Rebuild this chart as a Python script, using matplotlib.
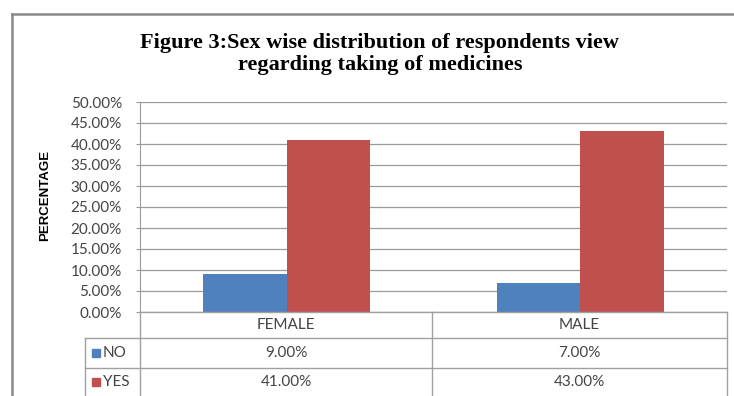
import matplotlib
matplotlib.use("Agg")
import matplotlib.pyplot as plt
from matplotlib.lines import Line2D
from matplotlib.patches import Rectangle

# ── data ─────────────────────────────────────────────────────────────────────
categories = ["FEMALE", "MALE"]
series_names = ["NO", "YES"]
no_values = [9.0, 7.0]
yes_values = [41.0, 43.0]
y_ticks = [0, 5, 10, 15, 20, 25, 30, 35, 40, 45, 50]

colors = {"NO": "#4F81BD", "YES": "#C0504D"}
W, H = 734, 396

fig = plt.figure(figsize=(W / 100, H / 100), dpi=100)
fig.patch.set_facecolor("white")

# plot area in pixels: left, top, right, bottom
L, T, R, B = 140, 102, 727, 312
ax = fig.add_axes([L / W, 1 - B / H, (R - L) / W, (B - T) / H])

x = range(len(categories))
bw = 0.285
ax.bar([i - bw / 2 for i in x], no_values, width=bw, color=colors["NO"], zorder=3)
ax.bar([i + bw / 2 for i in x], yes_values, width=bw, color=colors["YES"], zorder=3)

ax.set_xlim(-0.5, len(categories) - 0.5)
ax.set_ylim(0, 50)
ax.set_yticks(y_ticks)
ax.set_yticklabels([f"{v:.2f}%" for v in y_ticks], fontsize=11, color="#444444",
                   family="Lato")
ax.set_xticks([])
ax.grid(axis="y", color="#9a9a9a", linewidth=0.9, zorder=0)
ax.tick_params(axis="y", length=3, color="#9a9a9a", pad=10)
for s in ["top", "right", "bottom"]:
    ax.spines[s].set_visible(False)
ax.spines["left"].set_color("#9a9a9a")

def fx(px):
    return px / W

def fy(py):
    return 1 - py / H

fig.text(fx(45), fy(195), "PERCENTAGE", rotation=90, ha="center", va="center",
         fontsize=9.5, fontweight="bold", family="Liberation Sans")

fig.text(fx(380), fy(54),
         "Figure 3:Sex wise distribution of respondents view\nregarding taking of medicines",
         ha="center", va="center", fontsize=16, fontweight="bold",
         family="Liberation Serif", linespacing=1.1)

# ── data table under the axis ───────────────────────────────────────────────
lc = "#a0a0a0"
rows_y = [312, 338, 368, 396]
col_x = [L, 432, R]
tkw = dict(transform=fig.transFigure, color=lc, linewidth=1.0)
# horizontal lines
fig.add_artist(Line2D([fx(L), fx(R)], [fy(rows_y[0])] * 2, **tkw))
for yy in rows_y[1:3]:
    fig.add_artist(Line2D([fx(85), fx(R)], [fy(yy)] * 2, **tkw))
# vertical lines
for xx in col_x:
    fig.add_artist(Line2D([fx(xx)] * 2, [fy(rows_y[0]), fy(H)], **tkw))
fig.add_artist(Line2D([fx(85)] * 2, [fy(rows_y[1]), fy(H)], **tkw))

txt = dict(ha="center", va="center", fontsize=11, color="#444444", family="Lato")
for j, cat in enumerate(categories):
    cx = (col_x[j] + col_x[j + 1]) / 2
    fig.text(fx(cx), fy((rows_y[0] + rows_y[1]) / 2), cat, **txt)
    fig.text(fx(cx), fy((rows_y[1] + rows_y[2]) / 2), f"{no_values[j]:.2f}%", **txt)
    fig.text(fx(cx), fy((rows_y[2] + rows_y[3]) / 2), f"{yes_values[j]:.2f}%", **txt)

for k, name in enumerate(series_names):
    yc = (rows_y[k + 1] + rows_y[k + 2]) / 2
    fig.add_artist(Rectangle((fx(92), fy(yc + 4)), 8 / W, 8 / H,
                             transform=fig.transFigure, color=colors[name]))
    fig.text(fx(103), fy(yc), name, ha="left", va="center", fontsize=11,
             color="#444444", family="Lato")

# outer chart border
fig.add_artist(Line2D([fx(12), fx(W)], [fy(14)] * 2, transform=fig.transFigure,
                      color="#8a8a8a", linewidth=1.8))
fig.add_artist(Line2D([fx(12)] * 2, [fy(14), 0], transform=fig.transFigure,
                      color="#8a8a8a", linewidth=1.8))

fig.savefig("out.png", dpi=100)
